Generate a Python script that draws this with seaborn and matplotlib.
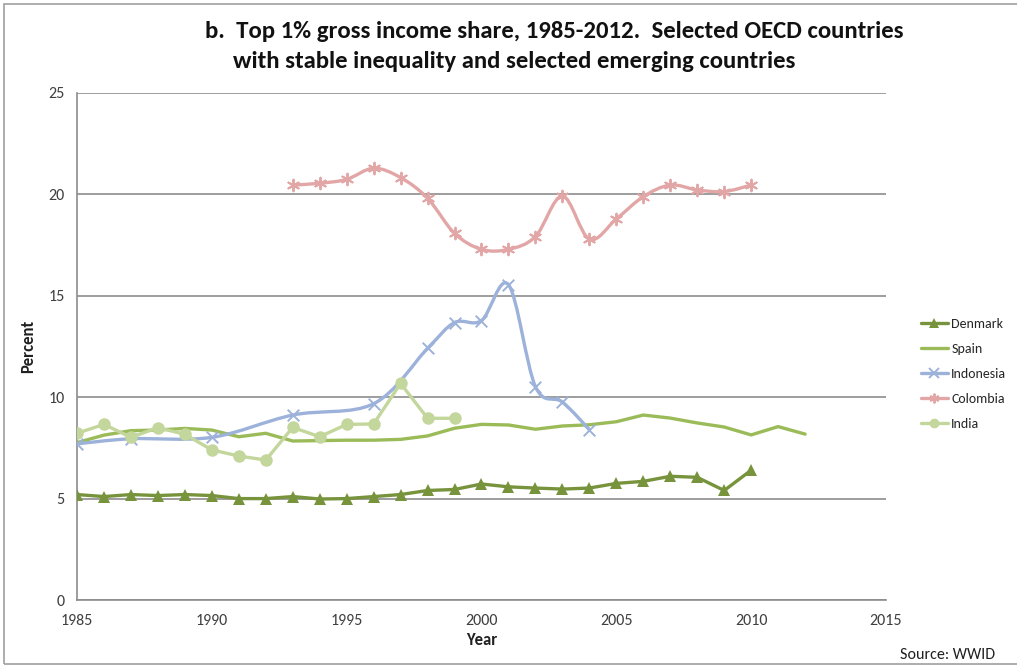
import numpy as np
import pandas as pd
import matplotlib
matplotlib.use("Agg")
import matplotlib.pyplot as plt
from matplotlib import font_manager
from matplotlib.path import Path
from matplotlib.patches import PathPatch
from matplotlib.lines import Line2D
import seaborn as sns

# Top 1% gross income share (%), by country and year
denmark_years = list(range(1985, 2011))
denmark = [5.2, 5.1, 5.2, 5.15, 5.2, 5.15, 5.0, 5.0, 5.1, 4.98, 5.0, 5.1, 5.2,
           5.4, 5.45, 5.72, 5.58, 5.52, 5.47, 5.52, 5.75, 5.85, 6.1, 6.05, 5.4, 6.4]

spain_years = list(range(1985, 2013))
spain = [7.76, 8.13, 8.35, 8.38, 8.46, 8.38, 8.05, 8.22, 7.84, 7.86, 7.88, 7.88,
         7.92, 8.09, 8.47, 8.66, 8.63, 8.42, 8.58, 8.64, 8.79, 9.12, 8.97, 8.73,
         8.53, 8.14, 8.55, 8.18]

indonesia_years = [1985, 1987, 1990, 1993, 1996, 1998, 1999, 2000, 2001, 2002, 2003, 2004]
indonesia = [7.7, 7.95, 8.02, 9.12, 9.68, 12.41, 13.68, 13.78, 15.55, 10.52, 9.76, 8.4]

colombia_years = list(range(1993, 2011))
colombia = [20.46, 20.55, 20.74, 21.29, 20.83, 19.81, 18.08, 17.29, 17.29, 17.92,
            19.92, 17.79, 18.79, 19.89, 20.46, 20.22, 20.14, 20.46]

india_years = list(range(1985, 2000))
india = [8.22, 8.66, 8.02, 8.5, 8.17, 7.4, 7.1, 6.9, 8.51, 8.05, 8.66, 8.68,
         10.68, 8.96, 8.96]

x_ticks = [1985, 1990, 1995, 2000, 2005, 2010, 2015]
y_ticks = [0, 5, 10, 15, 20, 25]

colors = {
    "Denmark": "#77933C",
    "Spain": "#9BBB59",
    "Indonesia": "#9DB2DA",
    "Colombia": "#E2A6A6",
    "India": "#C3D69B",
}

sns.set_theme(style="white")

# Pick a narrow sans face when one is installed
installed = {f.name for f in font_manager.fontManager.ttflist}
preferred = ["Carlito", "Liberation Sans Narrow", "Roboto Condensed",
             "Open Sans Condensed", "Lato", "Roboto", "DejaVu Sans"]
face = next(f for f in preferred if f in installed or f == "DejaVu Sans")
plt.rcParams["font.family"] = [face, "DejaVu Sans"]
plt.rcParams["axes.unicode_minus"] = False

fig = plt.figure(figsize=(10.17, 6.66), dpi=100)
ax = fig.add_axes([77 / 1017, 1 - 600 / 666, (886 - 77) / 1017, (600 - 93) / 666])

def smooth_path(xs, ys):
    """Catmull-Rom style Bezier path through the given points."""
    pts = np.column_stack([np.asarray(xs, float), np.asarray(ys, float)])
    n = len(pts)
    verts = [pts[0]]
    codes = [Path.MOVETO]
    for i in range(n - 1):
        p0 = pts[i - 1] if i > 0 else pts[i]
        p1 = pts[i]
        p2 = pts[i + 1]
        p3 = pts[i + 2] if i + 2 < n else pts[i + 1]
        verts += [p1 + (p2 - p0) / 6.0, p2 - (p3 - p1) / 6.0, p2]
        codes += [Path.CURVE4] * 3
    return Path(verts, codes)

df_dk = pd.DataFrame({"Year": denmark_years, "Percent": denmark})
df_es = pd.DataFrame({"Year": spain_years, "Percent": spain})
df_id = pd.DataFrame({"Year": indonesia_years, "Percent": indonesia})
df_co = pd.DataFrame({"Year": colombia_years, "Percent": colombia})
df_in = pd.DataFrame({"Year": india_years, "Percent": india})

lw = 2.4
sns.lineplot(data=df_dk, x="Year", y="Percent", ax=ax, color=colors["Denmark"],
             linewidth=lw, marker="^", markersize=8, markeredgewidth=0, zorder=3)
sns.lineplot(data=df_es, x="Year", y="Percent", ax=ax, color=colors["Spain"],
             linewidth=lw, zorder=3)

for df, name, mk in [(df_id, "Indonesia", "x"), (df_co, "Colombia", (6, 2, 0))]:
    ax.add_patch(PathPatch(smooth_path(df["Year"], df["Percent"]), facecolor="none",
                           edgecolor=colors[name], linewidth=lw, zorder=3))
    sns.scatterplot(data=df, x="Year", y="Percent", ax=ax, color=colors[name],
                    marker=mk, s=70, linewidth=1.4, zorder=4)

sns.lineplot(data=df_in, x="Year", y="Percent", ax=ax, color=colors["India"],
             linewidth=lw, marker="o", markersize=9, markeredgewidth=0, zorder=5)

ax.set_xlim(1985, 2015)
ax.set_ylim(0, 25)
ax.set_xticks(x_ticks)
ax.set_yticks(y_ticks)
ax.tick_params(axis="both", length=0, labelsize=11.5, colors="#404040")
ax.tick_params(axis="x", pad=10)
ax.tick_params(axis="y", pad=9)
ax.yaxis.grid(True, color="#8C8C8C", linewidth=1.2)
ax.xaxis.grid(False)
ax.set_axisbelow(True)
for side in ["top", "right"]:
    ax.spines[side].set_visible(False)
for side in ["left", "bottom"]:
    ax.spines[side].set_color("#8C8C8C")
    ax.spines[side].set_linewidth(1.2)

ax.set_xlabel("Year", fontsize=12, fontweight="bold", color="#202020", labelpad=3)
ax.set_ylabel("Percent", fontsize=12, fontweight="bold", color="#202020", labelpad=9)

# Title in two lines
t1 = fig.text(205 / 1017, 1 - 32 / 666,
              "b.  Top 1% gross income share, 1985-2012.  Selected OECD countries",
              fontsize=18, fontweight="bold", ha="left", va="center", color="#111111")
t2 = fig.text(233 / 1017, 1 - 62 / 666,
              "with stable inequality and selected emerging countries",
              fontsize=18, fontweight="bold", ha="left", va="center", color="#111111")

# Shrink the title if the chosen face runs wider than the space for it
fig.canvas.draw()
w1 = t1.get_window_extent().width
if w1 > 700:
    scale = 700 / w1
    t1.set_fontsize(18 * scale)
    t2.set_fontsize(18 * scale)

fig.text(995 / 1017, 1 - 655 / 666, "Source: WWID", fontsize=11.5, ha="right",
         va="center", color="#202020")

# Legend
handles = [
    Line2D([], [], color=colors["Denmark"], lw=lw, marker="^", markersize=7, markeredgewidth=0),
    Line2D([], [], color=colors["Spain"], lw=lw),
    Line2D([], [], color=colors["Indonesia"], lw=lw, marker="x", markersize=7, markeredgewidth=1.4),
    Line2D([], [], color=colors["Colombia"], lw=lw, marker=(6, 2, 0), markersize=7, markeredgewidth=1.4),
    Line2D([], [], color=colors["India"], lw=lw, marker="o", markersize=7, markeredgewidth=0),
]
labels = ["Denmark", "Spain", "Indonesia", "Colombia", "India"]
fig.legend(handles, labels, loc="upper left", bbox_to_anchor=(915 / 1017, 1 - 312 / 666),
           frameon=False, fontsize=10, handlelength=2.0, handletextpad=0.2,
           labelspacing=0.95, borderaxespad=0)

# Chart frame
frame = plt.Rectangle((4 / 1017, 2 / 666), 1.2, 1 - 6 / 666, transform=fig.transFigure,
                      fill=False, edgecolor="#A0A0A0", linewidth=1.2, clip_on=False)
fig.add_artist(frame)

fig.savefig("out.png", dpi=100)
